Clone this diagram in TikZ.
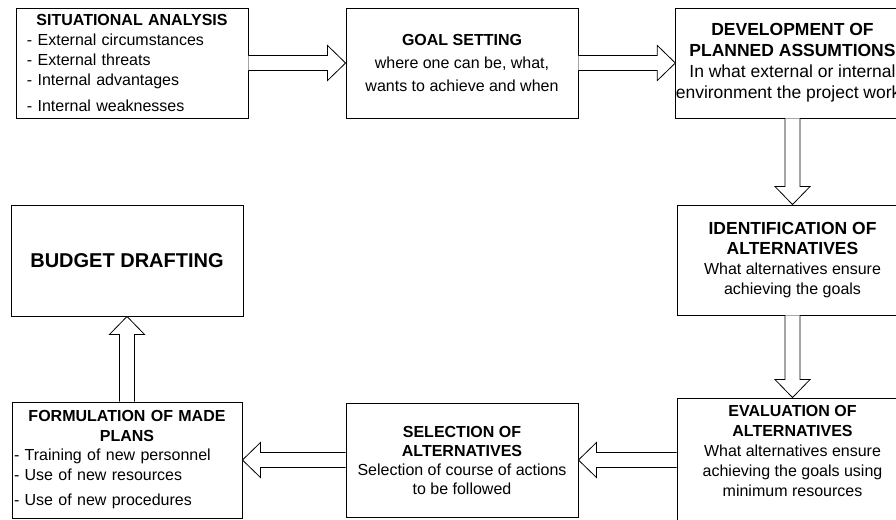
\documentclass[tikz,border=0pt]{standalone}
\usepackage{fontspec}
\setmainfont{Liberation Sans}
\usetikzlibrary{calc}

% hollow block arrow from one anchor to another
\newcommand{\hollowarrow}[2]{%
  \coordinate (hb) at ($(#2)!18pt!(#1)$);
  \draw[arrowline] ($(#1)!7.5pt!90:(#2)$) -- ($(hb)!7.5pt!90:(#2)$) -- ($(hb)!17.5pt!90:(#2)$) -- (#2)
    -- ($(hb)!17.5pt!-90:(#2)$) -- ($(hb)!7.5pt!-90:(#2)$) -- ($(#1)!7.5pt!-90:(#2)$);
}

\begin{document}
\begin{tikzpicture}[x=1pt,y=-1pt,
    box/.style={draw,line width=0.9pt,align=center,inner sep=0pt,
      font=\fontsize{16}{20}\selectfont},
    listbox/.style={box,align=left},
    arrowline/.style={line width=0.8pt,fill=white,line join=miter}]
  \useasboundingbox (0,0) rectangle (896,519);
  \clip (0,0) rectangle (896,519);

  \node[listbox,text width=210pt,inner xsep=11pt,minimum height=110pt] (sit) at (132,63)
    {{\centering\bfseries SITUATIONAL ANALYSIS\par}
     - External circumstances\par
     - External threats\par
     - Internal advantages\par\vspace{6pt}
     - Internal weaknesses};
  \node[box,minimum width=232pt,minimum height=110pt,font=\fontsize{16}{23}\selectfont] (goal) at (462,63)
    {\textbf{GOAL SETTING}\\ where one can be, what,\\ wants to achieve and when};
  \node[box,minimum width=231pt,minimum height=110pt,font=\fontsize{17.5}{21}\selectfont] (dev) at (792.5,63)
    {\textbf{DEVELOPMENT OF}\\ \textbf{PLANNED ASSUMTIONS}\\ In what external or internal\\ environment the project works};
  \node[box,minimum width=231pt,minimum height=110pt] (ident) at (792.5,260)
    {\textbf{\fontsize{17.5}{20}\selectfont IDENTIFICATION OF}\\ \textbf{\fontsize{17.5}{20}\selectfont ALTERNATIVES}\\ What alternatives ensure\\ achieving the goals};
  \node[box,minimum width=231pt,minimum height=124pt,text depth=18pt] (eval) at (792.5,460)
    {\textbf{EVALUATION OF}\\ \textbf{ALTERNATIVES}\\ What alternatives ensure\\ achieving the goals using\\ minimum resources};
  \node[box,minimum width=232pt,minimum height=114pt,font=\fontsize{16}{19}\selectfont] (select) at (462,460)
    {\textbf{SELECTION OF}\\ \textbf{ALTERNATIVES}\\ Selection of course of actions\\ to be followed};
  \node[listbox,text width=226pt,inner xsep=2pt,minimum height=116pt,font=\fontsize{16}{19.5}\selectfont] (form) at (127,460)
    {{\centering\bfseries FORMULATION OF MADE\\ PLANS\par}
     - Training of new personnel\par
     - Use of new resources\par\vspace{6pt}
     - Use of new procedures};
  \node[box,minimum width=232pt,minimum height=111pt,font=\fontsize{20}{24}\selectfont\bfseries] (budget) at (127,260.5)
    {BUDGET DRAFTING};

  \hollowarrow{sit.east}{goal.west}
  \hollowarrow{goal.east}{dev.west}
  \hollowarrow{dev.south}{ident.north}
  \hollowarrow{ident.south}{eval.north}
  \hollowarrow{eval.west}{select.east}
  \hollowarrow{select.west}{form.east}
  \hollowarrow{form.north}{budget.south}
\end{tikzpicture}
\end{document}
